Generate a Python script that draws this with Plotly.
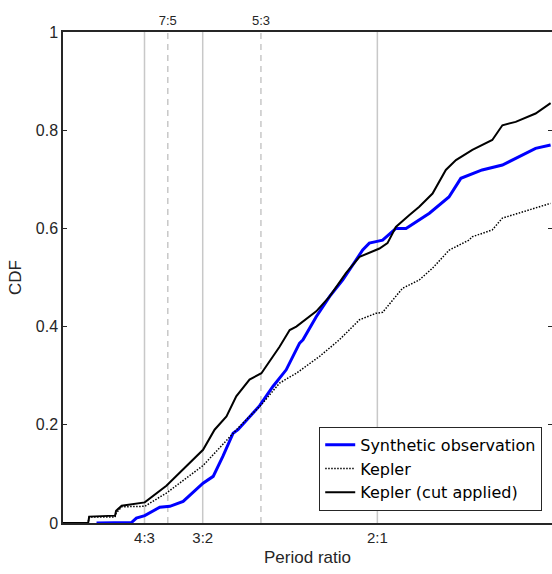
import plotly.graph_objects as go

# Period ratio / CDF readings
synth_x = [1.196, 1.296, 1.31, 1.334, 1.377, 1.406, 1.444, 1.501, 1.53, 1.558, 1.587, 1.601, 1.663,
           1.701, 1.739, 1.777, 1.787, 1.825, 1.863, 1.901, 1.958, 1.977, 1.996, 2.015, 2.053, 2.082,
           2.149, 2.205, 2.239, 2.3, 2.358, 2.415, 2.453, 2.496]
synth_y = [0.0, 0.001, 0.010, 0.015, 0.032, 0.034, 0.044, 0.081, 0.095, 0.136, 0.183, 0.190, 0.239,
           0.278, 0.312, 0.366, 0.373, 0.42, 0.461, 0.495, 0.556, 0.570, 0.573, 0.576, 0.600, 0.600,
           0.631, 0.664, 0.702, 0.719, 0.729, 0.749, 0.763, 0.770]

kepler_x = [1.1, 1.172, 1.175, 1.249, 1.252, 1.268, 1.334, 1.396, 1.501, 1.568, 1.606, 1.668, 1.72,
            1.768, 1.834, 1.891, 1.949, 1.996, 2.015, 2.044, 2.072, 2.12, 2.158, 2.206, 2.262, 2.272,
            2.329, 2.358, 2.415, 2.496]
kepler_y = [0.0, 0.0, 0.012, 0.012, 0.02, 0.033, 0.034, 0.061, 0.117, 0.169, 0.197, 0.241, 0.285,
            0.305, 0.339, 0.373, 0.414, 0.427, 0.429, 0.454, 0.478, 0.495, 0.519, 0.556, 0.576, 0.583,
            0.597, 0.621, 0.634, 0.651]

cut_x = [1.1, 1.172, 1.175, 1.249, 1.252, 1.268, 1.334, 1.396, 1.501, 1.534, 1.568, 1.596, 1.634,
         1.668, 1.72, 1.749, 1.768, 1.825, 1.863, 1.91, 1.949, 1.996, 2.006, 2.029, 2.053, 2.091,
         2.12, 2.158, 2.196, 2.225, 2.272, 2.329, 2.358, 2.396, 2.453, 2.496]
cut_y = [0.0, 0.0, 0.013, 0.015, 0.025, 0.035, 0.042, 0.076, 0.149, 0.190, 0.217, 0.258, 0.292,
         0.305, 0.359, 0.393, 0.400, 0.431, 0.461, 0.509, 0.542, 0.556, 0.559, 0.570, 0.603, 0.627,
         0.644, 0.671, 0.719, 0.739, 0.760, 0.780, 0.810, 0.817, 0.834, 0.855]

solid_ref = [4/3, 3/2, 2.0]
dashed_ref = [7/5, 5/3]
bottom_tick_vals = [4/3, 3/2, 2.0]
bottom_tick_text = ["4:3", "3:2", "2:1"]
top_tick_vals = [7/5, 5/3]
top_tick_text = ["7:5", "5:3"]
y_tick_vals = [0, 0.2, 0.4, 0.6, 0.8, 1]
y_tick_text = ["0", "0.2", "0.4", "0.6", "0.8", "1"]

AX = "#262626"
FONT = "Liberation Sans, Arial, sans-serif"
fig = go.Figure()

for v in solid_ref:
    fig.add_shape(type="line", x0=v, x1=v, y0=0, y1=1, xref="x", yref="paper",
                  line=dict(color="#c8c8c8", width=1.5), layer="below")
for v in dashed_ref:
    fig.add_shape(type="line", x0=v, x1=v, y0=0, y1=1, xref="x", yref="paper",
                  line=dict(color="#c8c8c8", width=1.5, dash="6px,5px"), layer="below")

fig.add_trace(go.Scatter(x=synth_x, y=synth_y, mode="lines", name="Synthetic observation",
                         line=dict(color="#0000ff", width=3)))
fig.add_trace(go.Scatter(x=kepler_x, y=kepler_y, mode="lines", name="Kepler",
                         line=dict(color="black", width=1.5, dash="1.5px,1.5px")))
fig.add_trace(go.Scatter(x=cut_x, y=cut_y, mode="lines", name="Kepler (cut applied)",
                         line=dict(color="black", width=2)))
fig.add_trace(go.Scatter(x=[1.1], y=[0], xaxis="x2", mode="markers", showlegend=False,
                         marker=dict(opacity=0), hoverinfo="skip"))

fig.update_layout(
    width=552, height=574,
    margin=dict(l=63, r=0, t=32, b=51, autoexpand=False),
    paper_bgcolor="white", plot_bgcolor="white",
    font=dict(family=FONT, size=14, color=AX),
    showlegend=True,
    legend=dict(x=0.98, y=0.025, xanchor="right", yanchor="bottom",
                bgcolor="white", bordercolor=AX, borderwidth=1,
                font=dict(family="DejaVu Sans", size=16, color="black"),
                tracegroupgap=0, itemwidth=30),
    xaxis=dict(range=[1.1, 2.5], tickvals=bottom_tick_vals, ticktext=bottom_tick_text,
               showgrid=False, zeroline=False, showline=True, linecolor=AX, linewidth=1.5,
               ticks="", automargin=False,
               title=dict(text="Period ratio", font=dict(size=17), standoff=6),
               tickfont=dict(size=15)),
    xaxis2=dict(range=[1.1, 2.5], overlaying="x", side="top", anchor="y", automargin=False,
                tickvals=top_tick_vals, ticktext=top_tick_text, showgrid=False, zeroline=False,
                showline=True, linecolor=AX, linewidth=1.5, ticks="", tickfont=dict(size=13)),
    yaxis=dict(range=[0, 1], tickvals=y_tick_vals, ticktext=y_tick_text, showgrid=False,
               zeroline=False, showline=True, linecolor=AX, linewidth=1.5, mirror="ticks",
               ticks="inside", ticklen=4, tickcolor=AX, tickwidth=1, automargin=False,
               title=dict(text="CDF", font=dict(size=17), standoff=10), tickfont=dict(size=16)),
)

fig.write_html("out.html", config={"displayModeBar": False},
               post_script="document.body.style.margin='0';document.body.style.overflow='hidden';")
